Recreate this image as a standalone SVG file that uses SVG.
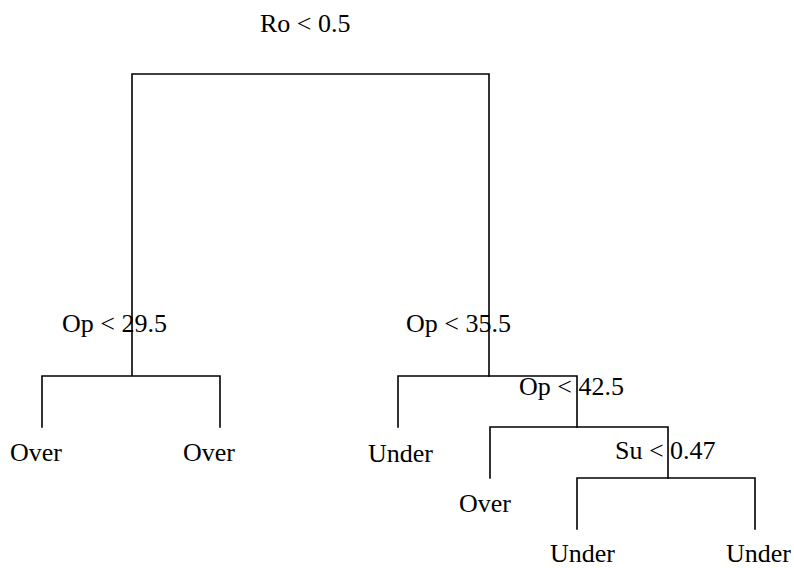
<svg xmlns="http://www.w3.org/2000/svg" width="794" height="568" viewBox="0 0 794 568">
<style>
.e{fill:none;stroke:#000;stroke-width:1.6;stroke-linecap:square}
text{font-family:"Liberation Serif","Times New Roman",serif;font-size:26px;fill:#000}
</style>
<rect width="794" height="568" fill="#fff"/>
<g id="connectors">
<path class="e" d="M132,375 V74 H489 V376"/>
<path class="e" d="M42,427 V376 H220 V427"/>
<path class="e" d="M398,427 V376 H577 V427"/>
<path class="e" d="M490,478 V427 H668 V478"/>
<path class="e" d="M577,529 V478 H755 V529"/>
</g>
<g id="n-root"><text x="260" y="32">Ro &lt; 0.5</text></g>
<g id="n-op295"><text x="62" y="332">Op &lt; 29.5</text></g>
<g id="n-op355"><text x="406" y="332">Op &lt; 35.5</text></g>
<g id="n-op425"><text x="519" y="395">Op &lt; 42.5</text></g>
<g id="n-su047"><text x="615" y="459">Su &lt; 0.47</text></g>
<g id="leaf-1"><text x="10" y="461">Over</text></g>
<g id="leaf-2"><text x="183" y="461">Over</text></g>
<g id="leaf-3"><text x="368" y="462">Under</text></g>
<g id="leaf-4"><text x="459" y="512">Over</text></g>
<g id="leaf-5"><text x="550" y="562">Under</text></g>
<g id="leaf-6"><text x="726" y="562">Under</text></g>
</svg>
